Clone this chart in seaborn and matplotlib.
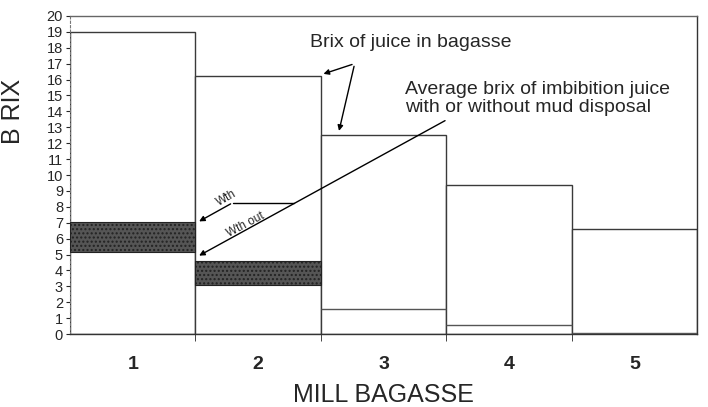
import pandas as pd
import matplotlib.pyplot as plt
import seaborn as sns

# Brix values
mills = ["1", "2", "3", "4", "5"]
juice_brix = [19.0, 16.2, 12.5, 9.4, 6.6]          # brix of juice in bagasse (box tops)
imbib_with = [7.05, 4.6, None, None, None]           # avg imbibition brix with mud disposal
imbib_without = [5.15, 3.1, None, None, None]        # avg imbibition brix without mud disposal
lower_line = [None, None, 1.6, 0.6, 0.1]             # lower level lines in mills 3-5

sns.set_style("white")
plt.rcParams["font.family"] = ["Liberation Sans", "DejaVu Sans"]

df = pd.DataFrame({"mill": mills, "brix": juice_brix})

fig = plt.figure(figsize=(7.08, 4.07), dpi=100)
ax = fig.add_axes([0.0989, 0.179, 0.8856, 0.782])

# Outline boxes for juice brix
sns.barplot(data=df, x="mill", y="brix", width=1.0, color="white",
            edgecolor="#3a3a3a", linewidth=1.0, ax=ax)

# Dark bands: imbibition juice with / without mud disposal
for i, (hi, lo) in enumerate(zip(imbib_with, imbib_without)):
    if hi is None:
        continue
    ax.bar(i, hi - lo, bottom=lo, width=1.0, color="#555555",
           edgecolor="#222222", linewidth=0.8, hatch="....", zorder=3)

# Lower level lines
for i, v in enumerate(lower_line):
    if v is None:
        continue
    ax.hlines(v, i - 0.5, i + 0.5, color="#555555", linewidth=1.0, zorder=3)

ax.set_xlim(-0.5, 4.5)
ax.set_ylim(0, 20)
ax.set_yticks(range(0, 21))
ax.tick_params(axis="y", labelsize=10.5, length=3, direction="out", left=True, pad=2)
ax.set_xticks(range(5))
ax.set_xticklabels(mills, fontsize=14, fontweight="bold")
ax.tick_params(axis="x", length=0, pad=16)
ax.set_xticks([0.5, 1.5, 2.5, 3.5], minor=True)
ax.tick_params(axis="x", which="minor", length=5, direction="out", bottom=True)

for side in ["top", "right", "bottom"]:
    ax.spines[side].set_visible(True)
    ax.spines[side].set_color("#333333")
    ax.spines[side].set_linewidth(1.0)
ax.spines["top"].set_color("#666666")
ax.spines["left"].set_color("#777777")
ax.spines["left"].set_linestyle((0, (2, 2)))
ax.spines["left"].set_linewidth(0.8)

ax.set_xlabel("MILL BAGASSE", fontsize=18)
ax.xaxis.set_label_coords(0.5, -0.155)
ax.set_ylabel("B RIX", fontsize=18)
ax.yaxis.set_label_coords(-0.072, 0.70)

# Annotations
arrow = dict(arrowstyle="-|>", color="black", lw=1.0, mutation_scale=8)
ax.text(1.41, 18.3, "Brix of juice in bagasse", fontsize=14, va="center", ha="left")
ax.annotate("", xy=(1.50, 16.3), xytext=(1.77, 17.0), arrowprops=arrow)
ax.annotate("", xy=(1.64, 12.6), xytext=(1.77, 17.0), arrowprops=arrow)

ax.text(2.17, 14.8, "Average brix of imbibition juice\nwith or without mud disposal",
        fontsize=14, va="center", ha="left", linespacing=1.05)
ax.annotate("", xy=(0.51, 4.85), xytext=(2.51, 13.5), arrowprops=arrow)

ax.plot([0.80, 1.29], [8.27, 8.27], color="black", lw=1.0)
ax.annotate("", xy=(0.51, 7.0), xytext=(0.80, 8.27), arrowprops=arrow)
ax.text(0.745, 8.55, "Wth", fontsize=8.5, rotation=30, ha="center", va="center")
ax.text(0.90, 6.9, "Wth out", fontsize=8.5, rotation=28, ha="center", va="center")

plt.savefig("out.png", dpi=100)
